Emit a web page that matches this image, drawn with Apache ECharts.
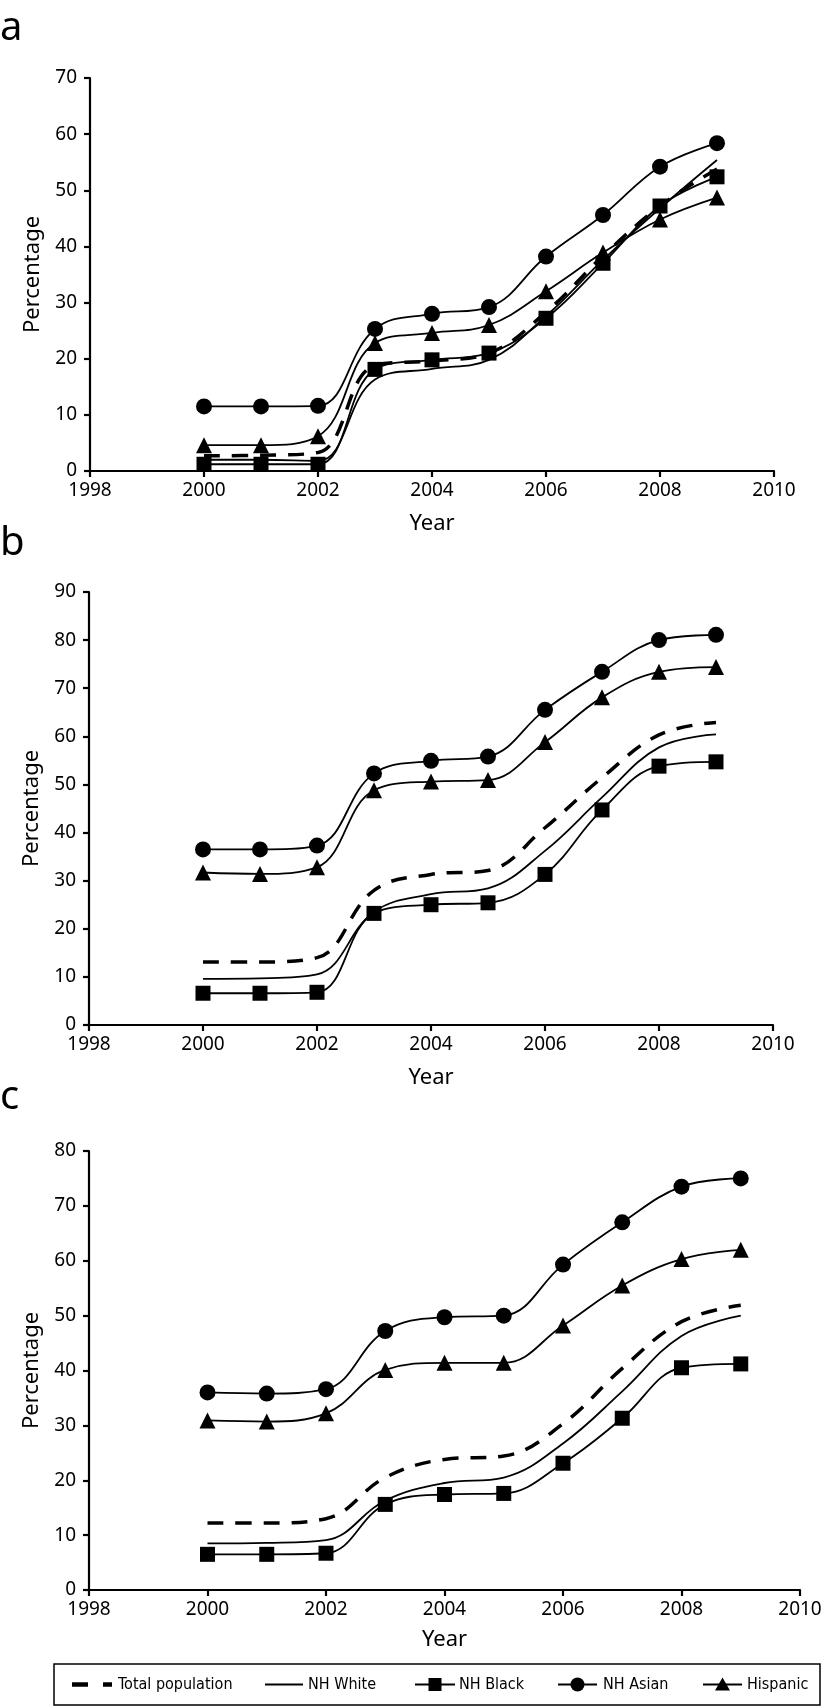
<!DOCTYPE html>
<html>
<head>
<meta charset="utf-8">
<script src="https://cdn.jsdelivr.net/npm/echarts@6/dist/echarts.min.js"></script>
<style>
  html, body { margin: 0; padding: 0; background: #fff; }
  #chart { width: 825px; height: 1707px; }
</style>
</head>
<body>
<div id="chart"></div>
<script>
// ---- data ----
var years = [2000, 2001, 2002, 2003, 2004, 2005, 2006, 2007, 2008, 2009];
var seriesNames = ['Total population', 'NH White', 'NH Black', 'NH Asian', 'Hispanic'];
var xTicks = [1998, 2000, 2002, 2004, 2006, 2008, 2010];
var panelLabels = ['a', 'b', 'c'];
var yMax = [70, 90, 80];

// panel a
var aTotal    = [2.7, 2.8, 3.3, 18.8, 19.6, 21.0, 28.3, 38.3, 47.2, 53.8];
var aWhite    = [2.0, 2.0, 1.8, 16.3, 18.2, 19.8, 27.6, 37.6, 46.8, 55.4];
var aBlack    = [1.2, 1.2, 1.2, 18.1, 19.8, 21.0, 27.2, 37.0, 47.2, 52.4];
var aAsian    = [11.5, 11.5, 11.6, 25.3, 28.0, 29.2, 38.2, 45.6, 54.2, 58.4];
var aHispanic = [4.6, 4.6, 6.2, 22.8, 24.6, 26.0, 32.0, 38.9, 44.8, 48.7];
// panel b
var bTotal    = [13.1, 13.1, 14.0, 28.0, 31.3, 32.1, 41.0, 51.4, 60.3, 62.9];
var bWhite    = [9.6, 9.7, 10.5, 23.5, 27.2, 28.4, 36.2, 47.3, 57.7, 60.4];
var bBlack    = [6.6, 6.6, 6.8, 23.2, 25.0, 25.4, 31.3, 44.7, 53.8, 54.7];
var bAsian    = [36.5, 36.5, 37.3, 52.3, 54.9, 55.8, 65.5, 73.4, 80.0, 81.1];
var bHispanic = [31.7, 31.4, 32.8, 48.8, 50.6, 50.9, 58.8, 68.1, 73.4, 74.4];
// panel c
var cTotal    = [12.2, 12.2, 13.0, 20.5, 23.8, 24.4, 30.3, 40.4, 48.9, 51.9];
var cWhite    = [8.5, 8.6, 9.1, 16.3, 19.5, 20.5, 26.7, 36.2, 46.3, 50.0];
var cBlack    = [6.5, 6.5, 6.7, 15.6, 17.4, 17.6, 23.1, 31.3, 40.5, 41.2];
var cAsian    = [36.0, 35.8, 36.6, 47.2, 49.7, 50.0, 59.3, 67.0, 73.5, 75.0];
var cHispanic = [30.9, 30.7, 32.2, 40.1, 41.4, 41.4, 48.2, 55.5, 60.3, 62.0];

var panels = [
  [aTotal, aWhite, aBlack, aAsian, aHispanic],
  [bTotal, bWhite, bBlack, bAsian, bHispanic],
  [cTotal, cWhite, cBlack, cAsian, cHispanic]
];

// ---- styles / layout ----
var FONT = "'Noto Sans', 'Open Sans', sans-serif";
var LEGEND_FONT = "'Liberation Sans Narrow', 'DejaVu Sans Condensed', 'Noto Sans', sans-serif";
var grids = [
  { left: 90, top: 78, width: 684, height: 393 },
  { left: 89, top: 592, width: 684, height: 433 },
  { left: 89, top: 1151, width: 711, height: 439 }
];
var labelTop = [9, 524, 1078];
var yearGap = [42, 42, 39];
var styles = [
  { symbol: 'none', width: 3.5, type: [16, 12], size: 0 },
  { symbol: 'none', width: 1.8, type: 'solid', size: 0 },
  { symbol: 'rect', width: 1.8, type: 'solid', size: 15 },
  { symbol: 'circle', width: 1.8, type: 'solid', size: 16 },
  { symbol: 'triangle', width: 1.8, type: 'solid', size: 16 }
];

var xAxes = [], yAxes = [], series = [], graphics = [];
for (var p = 0; p < 3; p++) {
  xAxes.push({
    type: 'value', gridIndex: p, min: xTicks[0], max: xTicks[xTicks.length - 1], interval: 2,
    name: 'Year', nameLocation: 'middle', nameGap: yearGap[p],
    nameTextStyle: { fontSize: 22, color: '#000', fontFamily: FONT },
    axisLine: { show: true, lineStyle: { color: '#000', width: 2.2 } },
    axisTick: { show: true, length: 6, lineStyle: { color: '#000', width: 2.2 } },
    axisLabel: { color: '#000', fontSize: 19, margin: 10, fontFamily: FONT,
      formatter: function (v) { return String(v); } },
    splitLine: { show: false }
  });
  yAxes.push({
    type: 'value', gridIndex: p, min: 0, max: yMax[p], interval: 10,
    name: 'Percentage', nameLocation: 'middle', nameRotate: 90, nameGap: 46,
    nameTextStyle: { fontSize: 22, color: '#000', fontFamily: FONT },
    axisLine: { show: true, lineStyle: { color: '#000', width: 2.2 } },
    axisTick: { show: true, length: 6, lineStyle: { color: '#000', width: 2.2 } },
    axisLabel: { color: '#000', fontSize: 19, margin: 13, fontFamily: FONT },
    splitLine: { show: false }
  });
  for (var s = 0; s < 5; s++) {
    var vals = panels[p][s];
    var st = styles[s];
    series.push({
      name: seriesNames[s], type: 'line', xAxisIndex: p, yAxisIndex: p,
      data: years.map(function (y, k) { return [y, vals[k]]; }),
      smooth: 0.4,
      symbol: st.symbol, symbolSize: st.size, showSymbol: st.symbol !== 'none',
      lineStyle: { color: '#000', width: st.width, type: st.type },
      itemStyle: { color: '#000' },
      z: 2 + s
    });
  }
  graphics.push({
    type: 'text', left: 0, top: labelTop[p],
    style: { text: panelLabels[p], fill: '#000', font: '40px ' + FONT }
  });
}

// ---- legend (drawn as a boxed key) ----
var LG = { x: 54, y: 1664, w: 766, h: 41 };
var cy = LG.y + LG.h / 2;
var keyLineX = [[72, 112], [265, 303], [415, 455], [558, 597], [703, 742]];
var keyTextX = [118, 308, 459, 603, 747];
graphics.push({
  type: 'rect', shape: { x: LG.x, y: LG.y, width: LG.w, height: LG.h },
  style: { fill: '#fff', stroke: '#000', lineWidth: 1.5 }, z: 10
});
for (var i = 0; i < 5; i++) {
  var kx = keyLineX[i];
  graphics.push({
    type: 'line', shape: { x1: kx[0], y1: cy, x2: kx[1], y2: cy },
    style: { stroke: '#000', lineWidth: i === 0 ? 4.5 : 1.8, lineDash: i === 0 ? [16, 15] : null },
    z: 11
  });
  var mx = (kx[0] + kx[1]) / 2;
  if (styles[i].symbol === 'rect') {
    graphics.push({ type: 'rect', shape: { x: mx - 6.5, y: cy - 6.5, width: 13, height: 13 },
      style: { fill: '#000' }, z: 12 });
  } else if (styles[i].symbol === 'circle') {
    graphics.push({ type: 'circle', shape: { cx: mx, cy: cy, r: 7 },
      style: { fill: '#000' }, z: 12 });
  } else if (styles[i].symbol === 'triangle') {
    graphics.push({ type: 'polygon', shape: { points: [[mx, cy - 7], [mx + 7.5, cy + 6], [mx - 7.5, cy + 6]] },
      style: { fill: '#000' }, z: 12 });
  }
  graphics.push({
    type: 'text', x: keyTextX[i], y: cy,
    style: { text: seriesNames[i], fill: '#000', font: '16px ' + LEGEND_FONT,
      verticalAlign: 'middle', align: 'left' },
    z: 12
  });
}

var chart = echarts.init(document.getElementById('chart'), null, { renderer: 'canvas' });
chart.setOption({
  animation: false,
  backgroundColor: '#fff',
  grid: grids,
  xAxis: xAxes,
  yAxis: yAxes,
  series: series,
  graphic: graphics
});
</script>
</body>
</html>
